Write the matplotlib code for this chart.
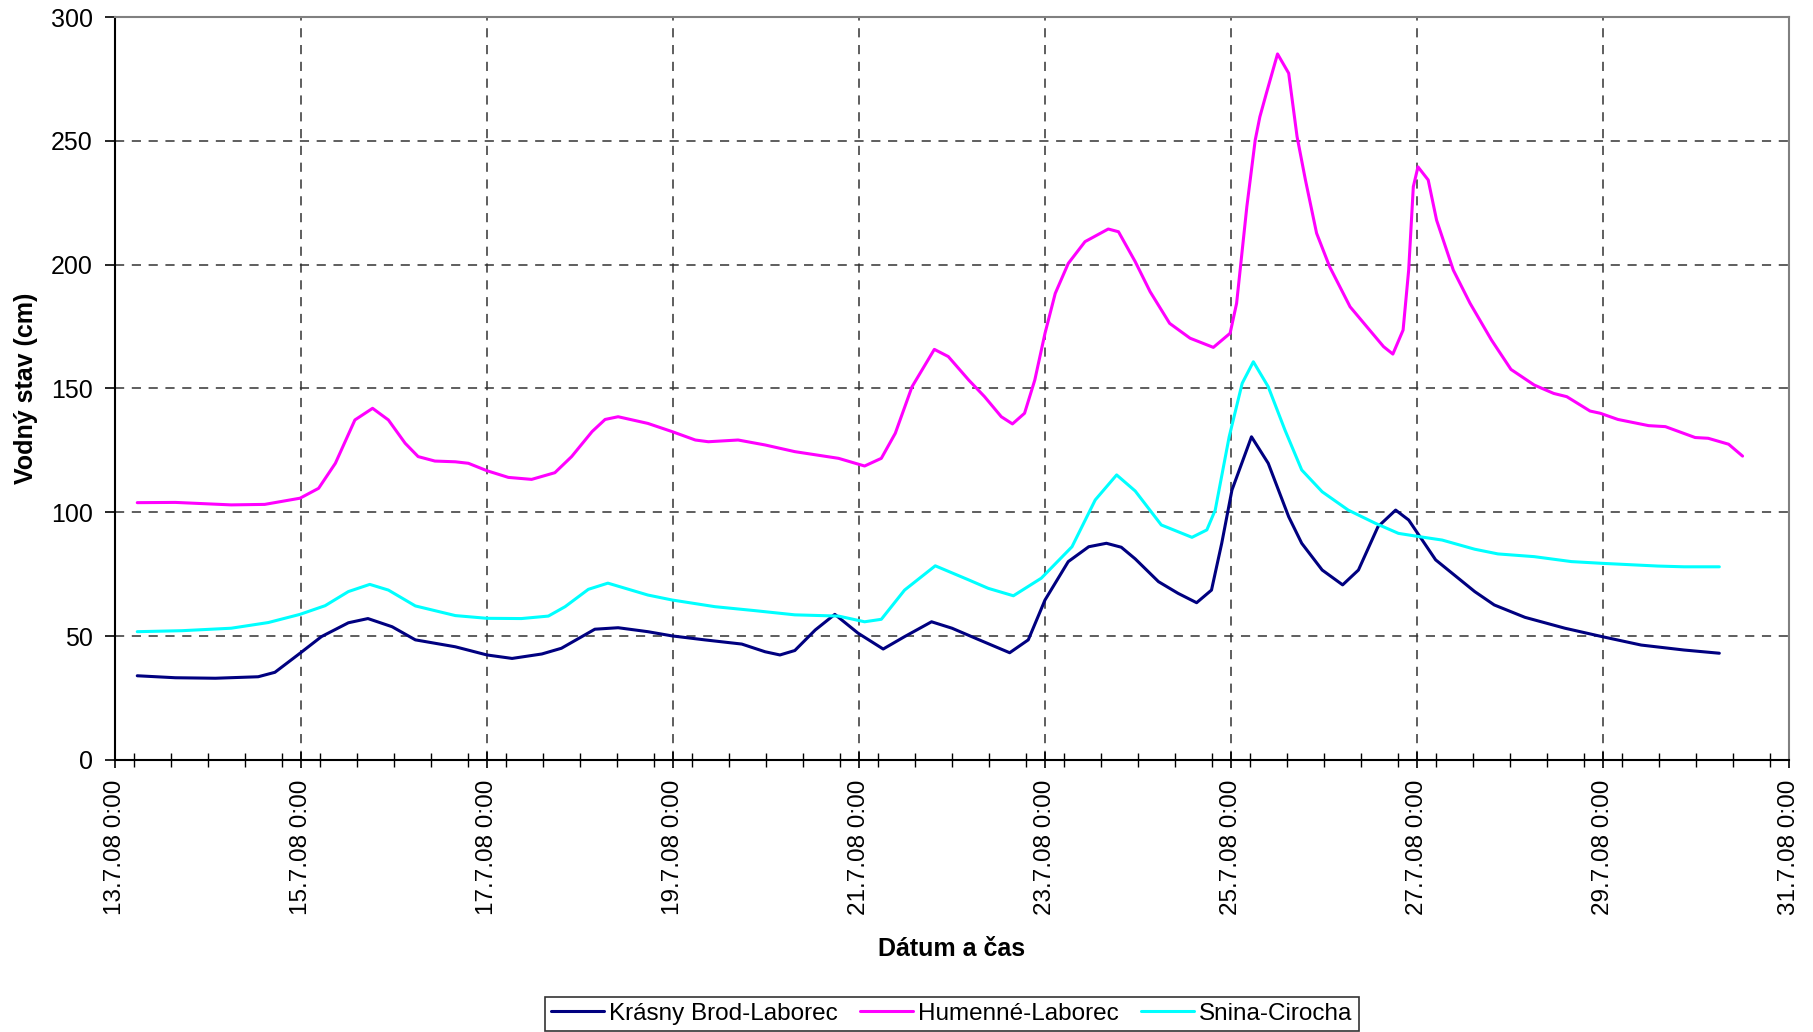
import matplotlib
matplotlib.use("Agg")
import matplotlib.pyplot as plt
from matplotlib.ticker import MultipleLocator, FixedLocator

plt.rcParams['font.family'] = ['Liberation Sans', 'DejaVu Sans']

# cas v dnoch mesiaca (jul 2008), vodny stav v cm
krasny_t = [13.24, 13.65, 14.08, 14.54, 14.72, 14.99, 15.22, 15.51, 15.72, 15.98,
            16.23, 16.66, 17.00, 17.27, 17.59, 17.80, 18.16, 18.41, 18.73, 18.99,
            19.34, 19.74, 19.99, 20.15, 20.31, 20.53, 20.74, 20.99, 21.26, 21.49,
            21.78, 22.00, 22.28, 22.62, 22.82, 23.00, 23.25, 23.47, 23.66, 23.82,
            23.97, 24.22, 24.43, 24.63, 24.79, 24.90, 25.01, 25.22, 25.40, 25.62,
            25.76, 25.98, 26.20, 26.37, 26.58, 26.77, 26.91, 27.20, 27.62, 27.83,
            28.16, 28.59, 28.99, 29.41, 29.87, 30.25]
krasny_v = [34.0, 33.2, 33.0, 33.6, 35.4, 43.1, 49.8, 55.4, 57.1, 53.8,
            48.5, 45.7, 42.4, 41.0, 42.8, 45.1, 52.8, 53.4, 51.8, 50.1,
            48.5, 46.8, 43.7, 42.4, 44.2, 52.5, 58.8, 51.2, 44.8, 49.8,
            55.8, 53.2, 48.7, 43.3, 48.5, 64.6, 80.1, 86.1, 87.5, 85.9,
            81.2, 72.0, 67.3, 63.5, 68.6, 87.5, 109.0, 130.5, 119.8, 98.2,
            87.5, 76.7, 70.7, 76.7, 94.2, 100.9, 96.9, 80.8, 68.0, 62.6,
            57.6, 53.2, 49.8, 46.4, 44.4, 43.1]

humenne_t = [13.24, 13.65, 14.25, 14.61, 14.99, 15.19, 15.37, 15.58, 15.77, 15.94,
             16.12, 16.26, 16.44, 16.66, 16.80, 17.00, 17.23, 17.48, 17.73, 17.91,
             18.13, 18.27, 18.41, 18.73, 18.99, 19.24, 19.38, 19.70, 19.99, 20.31,
             20.78, 21.06, 21.24, 21.39, 21.57, 21.81, 21.96, 22.18, 22.35, 22.53,
             22.65, 22.78, 22.89, 23.00, 23.11, 23.25, 23.43, 23.68, 23.79, 23.97,
             24.13, 24.34, 24.56, 24.81, 24.99, 25.06, 25.17, 25.26, 25.31, 25.38,
             25.50, 25.62, 25.71, 25.80, 25.92, 26.06, 26.28, 26.49, 26.64, 26.74,
             26.85, 26.91, 26.96, 27.01, 27.12, 27.21, 27.39, 27.57, 27.80, 28.01,
             28.26, 28.47, 28.61, 28.86, 28.97, 29.16, 29.49, 29.67, 29.99, 30.13,
             30.35, 30.50]
humenne_v = [103.9, 104.0, 103.0, 103.2, 105.7, 109.7, 119.8, 137.3, 142.0, 137.3,
             127.9, 122.5, 120.7, 120.4, 119.8, 116.8, 114.1, 113.3, 116.0, 122.5,
             132.6, 137.5, 138.6, 135.9, 132.6, 129.2, 128.5, 129.2, 127.2, 124.5,
             121.8, 118.7, 121.8, 131.9, 150.7, 165.8, 162.9, 153.4, 146.7, 138.6,
             135.7, 140.0, 153.4, 172.3, 188.4, 200.5, 209.3, 214.4, 213.3, 201.2,
             189.1, 176.3, 170.3, 166.6, 172.3, 184.4, 223.4, 250.3, 259.7, 269.2,
             285.1, 277.3, 251.7, 234.2, 212.7, 199.2, 183.0, 173.6, 166.9, 163.9,
             173.6, 197.8, 231.5, 239.5, 234.2, 218.0, 197.8, 184.4, 169.6, 157.7,
             151.4, 148.0, 146.7, 140.9, 140.0, 137.5, 135.0, 134.6, 130.2, 129.9,
             127.5, 122.7]

snina_t = [13.24, 13.72, 14.25, 14.65, 14.99, 15.26, 15.51, 15.74, 15.94, 16.23,
           16.66, 17.00, 17.37, 17.66, 17.84, 18.09, 18.30, 18.73, 18.99, 19.45,
           19.88, 20.31, 20.78, 21.06, 21.24, 21.49, 21.82, 22.18, 22.39, 22.66,
           22.96, 23.29, 23.54, 23.77, 23.97, 24.25, 24.58, 24.74, 24.83, 24.98,
           25.12, 25.24, 25.40, 25.58, 25.76, 25.98, 26.26, 26.55, 26.80, 27.02,
           27.27, 27.62, 27.87, 28.26, 28.66, 28.99, 29.59, 29.87, 30.25]
snina_v = [51.8, 52.2, 53.2, 55.5, 58.8, 62.3, 68.0, 70.9, 68.6, 62.2,
           58.3, 57.2, 57.1, 58.1, 61.9, 68.9, 71.4, 66.6, 64.6, 61.9,
           60.3, 58.6, 58.1, 55.8, 56.8, 68.6, 78.4, 72.7, 69.3, 66.3,
           73.4, 86.1, 105.0, 115.1, 108.6, 94.9, 89.9, 92.9, 100.9, 130.5,
           152.1, 160.8, 150.7, 133.2, 117.1, 108.3, 100.9, 95.6, 91.5, 90.2,
           88.8, 85.1, 83.2, 82.1, 80.1, 79.4, 78.3, 78.0, 78.0]

series = [
    ("Krásny Brod-Laborec", krasny_t, krasny_v, "#000080"),
    ("Humenné-Laborec", humenne_t, humenne_v, "#ff00ff"),
    ("Snina-Cirocha", snina_t, snina_v, "#00ffff"),
]

major_days = list(range(13, 32, 2))
major_labels = [f"{d}.7.08 0:00" for d in major_days]

fig = plt.figure(figsize=(18.13, 10.32), dpi=100)
ax = fig.add_axes([0.0634, 0.2636, 0.9234, 0.7199])

for name, t, v, c in series:
    ax.plot(t, v, color=c, lw=2.2, label=name,
            solid_joinstyle='round', solid_capstyle='round')

ax.set_xlim(13, 31)
ax.set_ylim(0, 300)
ax.xaxis.set_major_locator(FixedLocator(major_days))
ax.xaxis.set_minor_locator(MultipleLocator(0.4))
ax.set_xticklabels(major_labels, rotation=90)
ax.yaxis.set_major_locator(MultipleLocator(50))

ax.grid(True, which='major', color='#333333', linestyle=(0, (6, 5)), lw=1.1)
ax.tick_params(axis='x', which='major', direction='inout', length=12, width=1.2,
               labelsize=17.5, pad=8)
ax.tick_params(axis='x', which='minor', direction='inout', length=10, width=1)
ax.tick_params(axis='y', direction='out', length=7, width=1.2, labelsize=18, pad=9)

for s in ['left', 'bottom']:
    ax.spines[s].set_color('black')
    ax.spines[s].set_linewidth(1.5)
for s in ['top', 'right']:
    ax.spines[s].set_color('#808080')
    ax.spines[s].set_linewidth(1.5)

ax.set_xlabel("Dátum a čas", fontsize=18, fontweight='bold', labelpad=16)
ax.set_ylabel("Vodný stav (cm)", fontsize=18, fontweight='bold', labelpad=9)

leg = fig.legend(loc='lower center', bbox_to_anchor=(0.525, 0.001), ncol=3,
                 fontsize=17.5, frameon=True, fancybox=False, edgecolor='black',
                 handlelength=2.2, handletextpad=0.2, columnspacing=0.9,
                 borderpad=0.25, borderaxespad=0)
leg.get_frame().set_linewidth(1.2)

fig.savefig("out.png", dpi=100)
